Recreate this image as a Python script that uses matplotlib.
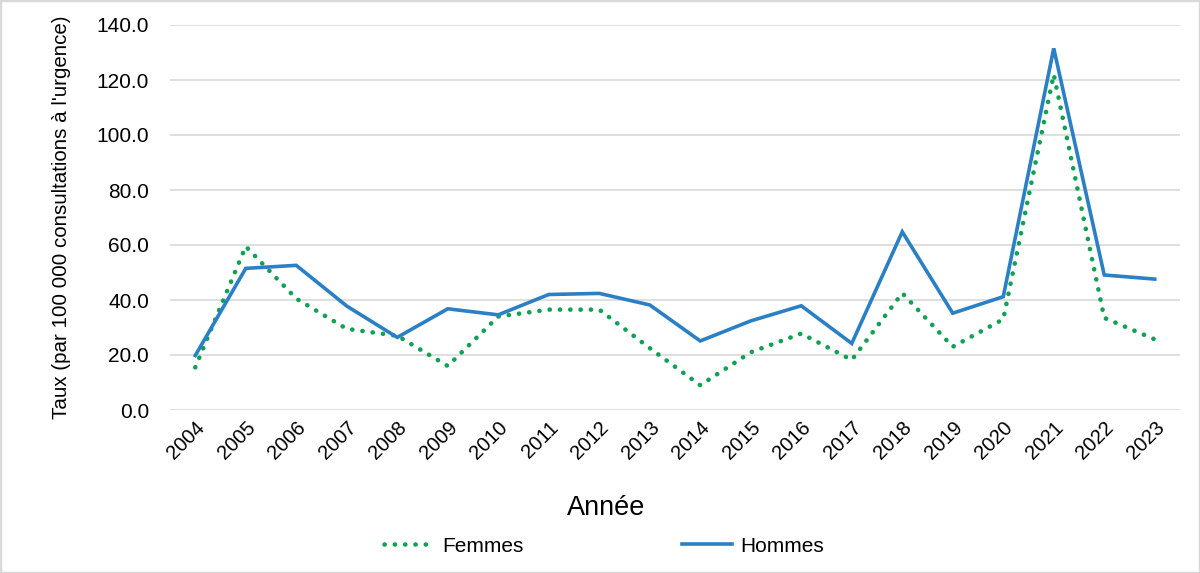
import matplotlib
matplotlib.use('Agg')
from matplotlib import pyplot as plt
from matplotlib.patches import Rectangle

plt.rcParams['font.family'] = ['Liberation Sans', 'DejaVu Sans']

# Data
years = [str(y) for y in range(2004, 2024)]
femmes = [15.5, 59.5, 40.5, 29.5, 27.0, 16.0, 34.0, 36.5, 36.5, 22.5,
          9.0, 21.0, 27.8, 18.2, 42.5, 23.0, 33.0, 122.0, 33.5, 25.7]
hommes = [19.8, 51.5, 52.6, 37.8, 26.4, 36.8, 34.6, 42.0, 42.4, 38.2,
          25.1, 32.4, 37.9, 24.2, 64.8, 35.2, 41.2, 131.5, 49.1, 47.6]
y_ticks = [0, 20, 40, 60, 80, 100, 120, 140]

GREEN = '#11A152'
BLUE = '#2B80C5'
GRID = '#D9D9D9'


def main():
    fig = plt.figure(figsize=(12, 5.73), dpi=100)
    ax = fig.add_axes([170 / 1200, 1 - 410 / 573, 1010 / 1200, 385 / 573])

    x = list(range(len(years)))
    ax.plot(x, femmes, color=GREEN, linewidth=3.3, linestyle=(0, (0.05, 2.2)),
            dash_capstyle='round', label='Femmes', zorder=3)
    ax.plot(x, hommes, color=BLUE, linewidth=2.6, solid_joinstyle='miter',
            label='Hommes', zorder=4)

    ax.set_xlim(-0.5, len(years) - 0.5)
    ax.set_ylim(0, 140)
    ax.set_yticks(y_ticks)
    ax.set_yticklabels([f'{v:.1f}' for v in y_ticks], fontsize=15)
    ax.set_xticks(x)
    ax.set_xticklabels(years, rotation=45, ha='right', va='top',
                       rotation_mode='anchor', fontsize=14.5)
    ax.tick_params(axis='both', length=0)
    ax.tick_params(axis='y', pad=15)
    ax.tick_params(axis='x', pad=6)

    ax.grid(axis='y', color=GRID, linewidth=1.2)
    ax.set_axisbelow(True)
    for s in ax.spines.values():
        s.set_visible(False)

    ax.set_ylabel("Taux (par 100 000 consultations à l'urgence)", fontsize=14.8)
    ax.yaxis.set_label_coords(-99 / 1010, 0.5)

    fig.text(606 / 1200, 1 - 508 / 573, 'Année', fontsize=19.5,
             ha='center', va='center')

    fig.legend(loc='center', bbox_to_anchor=(604 / 1200, 1 - 546 / 573), ncol=2,
               frameon=False, fontsize=15, handlelength=2.4,
               handletextpad=0.38, columnspacing=7.6)

    fig.patches.append(Rectangle((0, 0), 1, 1, transform=fig.transFigure,
                                 fill=False, edgecolor=GRID, linewidth=2.5))

    fig.savefig('out.png', dpi=100)


if __name__ == '__main__':
    main()
